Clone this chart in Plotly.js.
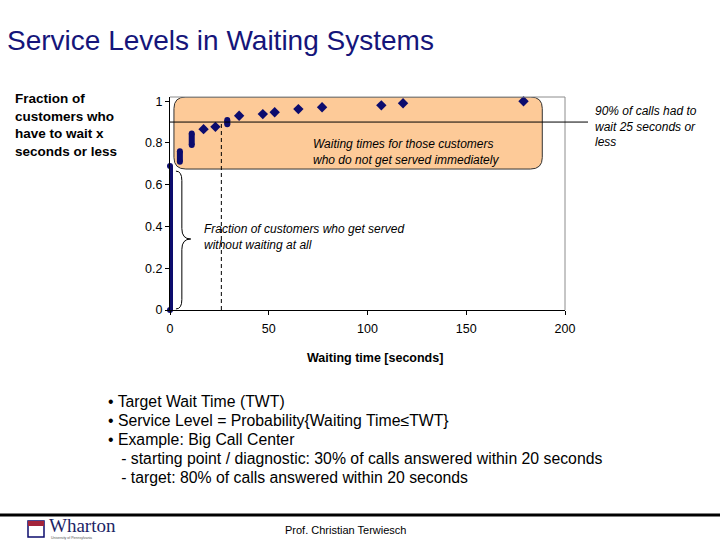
<!DOCTYPE html>
<html>
<head>
<meta charset="utf-8">
<script src="https://cdn.plot.ly/plotly-3.0.1.min.js"></script>
<style>
  html, body { margin: 0; padding: 0; background: #fff; }
  #chart { width: 720px; height: 540px; }
</style>
</head>
<body>
<div id="chart"></div>
<script>
// --- data ---
// stacks of many customers at the same waiting time (drawn as a solid column)
const stackX = [0, 5, 11, 29];
const stackLow = [0, 0.71, 0.79, 0.89];
const stackHigh = [0.69, 0.76, 0.845, 0.91];
// single customers further out
const dotX = [17, 23, 35, 47, 53, 65, 77, 107, 118, 179];
const dotY = [0.866, 0.877, 0.93, 0.938, 0.947, 0.962, 0.971, 0.98, 0.99, 1.0];

const xTicks = [0, 50, 100, 150, 200];
const yTicks = [0, 0.2, 0.4, 0.6, 0.8, 1];
const yTickText = ['0', '0.2', '0.4', '0.6', '0.8', '1'];

const serviceLevel = 0.9;
const targetWait = 26;

const bullets = [
    '• Target Wait Time (TWT)',
    '• Service Level = Probability{Waiting Time≤TWT}',
    '• Example: Big Call Center',
    '\u00a0\u00a0\u00a0- starting point / diagnostic: 30% of calls answered within 20 seconds',
    '\u00a0\u00a0\u00a0- target: 80% of calls answered within 20 seconds'
];

// --- page geometry (plot area in pixels) ---
const W = 720, H = 540;
const L = 170, R = 565, T = 97, B = 310;
const px = p => (p - L) / (R - L);      // pixel x -> paper x
const py = p => (B - p) / (B - T);      // pixel y -> paper y

const navy = '#0c0c6e';
const font = 'Arial, "Liberation Sans", sans-serif';

// columns: pairs of points separated by null so each column is its own segment
const colX = [], colY = [];
stackX.forEach((x, i) => {
    colX.push(x, x, null);
    colY.push(stackLow[i], stackHigh[i], null);
});

const columnTrace = {
    x: colX, y: colY,
    type: 'scatter', mode: 'lines+markers',
    line: { color: navy, width: 6 },
    marker: { color: navy, size: 6, symbol: 'circle' },
    cliponaxis: false, hoverinfo: 'skip', showlegend: false
};

const dotTrace = {
    x: dotX, y: dotY,
    type: 'scatter', mode: 'markers',
    marker: { color: navy, size: 8, symbol: 'diamond' },
    cliponaxis: false, showlegend: false
};

// rounded rectangle as a path (data units)
function roundRect(x0, x1, y0, y1, rx, ry) {
    return `M ${x0 + rx},${y1} L ${x1 - rx},${y1} Q ${x1},${y1} ${x1},${y1 - ry} ` +
           `L ${x1},${y0 + ry} Q ${x1},${y0} ${x1 - rx},${y0} ` +
           `L ${x0 + rx},${y0} Q ${x0},${y0} ${x0},${y0 + ry} ` +
           `L ${x0},${y1 - ry} Q ${x0},${y1} ${x0 + rx},${y1} Z`;
}

// curly brace next to the zero-wait column
const brace = 'M 3,0.665 Q 6,0.665 6,0.62 L 6,0.39 Q 6,0.34 10.5,0.34 ' +
              'Q 6,0.34 6,0.29 L 6,0.05 Q 6,0.005 3,0.005';

const shapes = [
    { type: 'path', xref: 'x', yref: 'y', layer: 'below',
      path: roundRect(2, 188.5, 0.675, 1.02, 6, 0.055),
      fillcolor: '#fdca98', line: { color: '#333', width: 1 } },
    // gray frame on top and right
    { type: 'line', xref: 'paper', yref: 'paper', x0: 0, x1: 1, y0: 1, y1: 1,
      line: { color: '#8c8c8c', width: 1 } },
    { type: 'line', xref: 'paper', yref: 'paper', x0: 1, x1: 1, y0: 0, y1: 1,
      line: { color: '#8c8c8c', width: 1 } },
    // service level line, runs out to the note on the right
    { type: 'line', xref: 'paper', yref: 'y', x0: 0, x1: px(588),
      y0: serviceLevel, y1: serviceLevel, line: { color: '#000', width: 1 } },
    // target wait time
    { type: 'line', xref: 'x', yref: 'y', x0: targetWait, x1: targetWait,
      y0: 0, y1: serviceLevel, line: { color: '#000', width: 1, dash: '4px,3px' } },
    { type: 'path', xref: 'x', yref: 'y', path: brace,
      line: { color: '#000', width: 1 } },
    // footer rule
    { type: 'line', xref: 'paper', yref: 'paper', x0: px(0), x1: px(W),
      y0: py(515), y1: py(515), line: { color: '#000', width: 3 } },
    // little shield of the logo
    { type: 'rect', xref: 'paper', yref: 'paper', x0: px(28), x1: px(44),
      y0: py(537), y1: py(521), fillcolor: '#fff', line: { color: navy, width: 1.5 } },
    { type: 'rect', xref: 'paper', yref: 'paper', x0: px(28), x1: px(44),
      y0: py(526), y1: py(521), fillcolor: '#a3243b', line: { width: 0 } }
];

function note(text, x, y, size, opts = {}) {
    return Object.assign({
        text: text, xref: 'paper', yref: 'paper', x: px(x), y: py(y),
        xanchor: 'left', yanchor: 'top', align: 'left', showarrow: false,
        font: { family: font, size: size, color: '#000' }
    }, opts);
}

const annotations = [
    note('<b>Fraction of<br>customers who<br>have to wait x<br>seconds or less</b>', 13, 89, 13.5),
    note('<i>Waiting times for those customers<br>who do not get served immediately</i>', 311, 135, 12),
    note('<i>Fraction of customers who get served<br>without waiting at all</i>', 202, 220, 12),
    note('<i>90% of calls had to<br>wait 25 seconds or<br>less</i>', 593, 102, 12),
    note('<b>Waiting time [seconds]</b>', 375, 358, 12.5, { xanchor: 'center', yanchor: 'middle' }),
    note('Prof. Christian Terwiesch', 345, 530, 11, { xanchor: 'center', yanchor: 'middle' }),
    note('Wharton', 47, 525, 19, { yanchor: 'middle',
         font: { family: '"Liberation Serif", "DejaVu Serif", serif', size: 19, color: '#1b2466' } }),
    note('University of Pennsylvania', 49, 538, 3.5, { yanchor: 'middle',
         font: { family: font, size: 3.5, color: '#555' } })
];
// one annotation per bullet line keeps the slide's line spacing
bullets.forEach((line, i) => {
    annotations.push(note(line, 106, 401 + i * 19, 15.8, { yanchor: 'middle' }));
});

const layout = {
    width: W, height: H,
    margin: { l: L, r: W - R, t: T, b: H - B, pad: 0 },
    paper_bgcolor: '#fff', plot_bgcolor: '#fff',
    font: { family: font, size: 12, color: '#000' },
    title: {
        text: 'Service Levels in Waiting Systems',
        xref: 'container', yref: 'container', x: 7 / W, xanchor: 'left',
        y: 1 - 40 / H, yanchor: 'middle',
        font: { family: font, size: 28, color: '#15157a' }
    },
    xaxis: {
        range: [0, 200], tickvals: xTicks, ticks: 'outside', ticklen: 4,
        tickcolor: '#000', showline: true, linecolor: '#000', linewidth: 1,
        showgrid: false, zeroline: false, tickfont: { size: 12.5 },
        ticklabelstandoff: 3, fixedrange: true
    },
    yaxis: {
        range: [0, 1.02], tickvals: yTicks, ticktext: yTickText, ticks: 'outside', ticklen: 4,
        tickcolor: '#000', showline: true, linecolor: '#000', linewidth: 1,
        showgrid: false, zeroline: false, tickfont: { size: 12.5 }, fixedrange: true
    },
    shapes: shapes,
    annotations: annotations,
    showlegend: false
};

Plotly.newPlot('chart', [columnTrace, dotTrace], layout, { displayModeBar: false, staticPlot: true });
</script>
</body>
</html>
